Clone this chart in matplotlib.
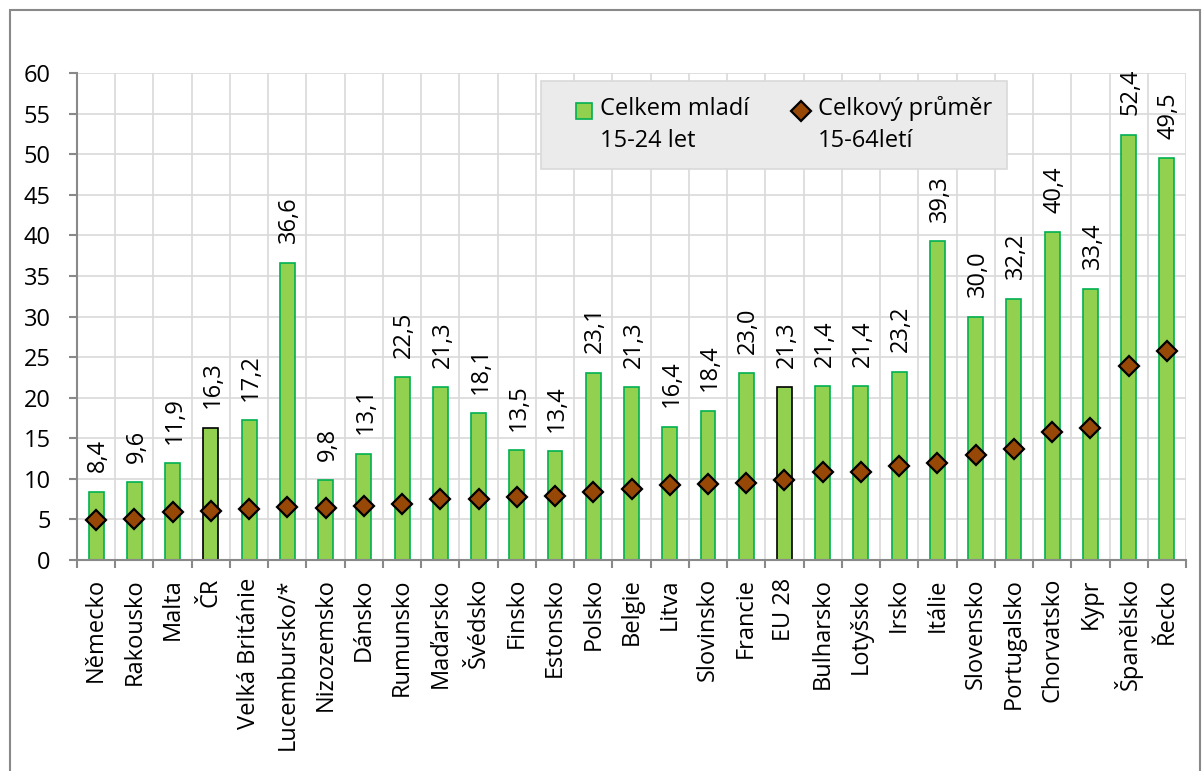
import matplotlib
matplotlib.use("Agg")
import matplotlib.pyplot as plt
import numpy as np
from matplotlib.patches import Rectangle
from matplotlib.lines import Line2D
from matplotlib.legend_handler import HandlerPatch, HandlerLine2D

plt.rcParams['font.family'] = ['Open Sans', 'DejaVu Sans']

categories = ["Německo", "Rakousko", "Malta", "ČR", "Velká Británie", "Lucembursko/*",
              "Nizozemsko", "Dánsko", "Rumunsko", "Maďarsko", "Švédsko", "Finsko",
              "Estonsko", "Polsko", "Belgie", "Litva", "Slovinsko", "Francie", "EU 28",
              "Bulharsko", "Lotyšsko", "Irsko", "Itálie", "Slovensko", "Portugalsko",
              "Chorvatsko", "Kypr", "Španělsko", "Řecko"]
youth = [8.4, 9.6, 11.9, 16.3, 17.2, 36.6, 9.8, 13.1, 22.5, 21.3, 18.1, 13.5, 13.4,
         23.1, 21.3, 16.4, 18.4, 23.0, 21.3, 21.4, 21.4, 23.2, 39.3, 30.0, 32.2,
         40.4, 33.4, 52.4, 49.5]
total = [4.9, 5.0, 5.9, 6.0, 6.3, 6.5, 6.4, 6.7, 6.9, 7.5, 7.5, 7.8, 7.9, 8.4, 8.8,
         9.3, 9.4, 9.5, 9.8, 10.8, 10.9, 11.6, 12.0, 12.9, 13.7, 15.8, 16.3, 23.9, 25.7]
highlight = ["ČR", "EU 28"]
label_youth = "Celkem mladí\n15-24 let"
label_total = "Celkový průměr\n15-64letí"
yticks = list(range(0, 61, 5))

FS = 17
SHIFT = 0.62  # legend handle shift (in font sizes) to align with first text line
XPAD = 0.85


class ShiftPatch(HandlerPatch):
    def adjust_drawing_area(self, legend, orig_handle, xdescent, ydescent, width, height, fontsize):
        return (xdescent - XPAD * fontsize, ydescent - SHIFT * fontsize,
                width - XPAD * fontsize, height)


class ShiftLine(HandlerLine2D):
    def adjust_drawing_area(self, legend, orig_handle, xdescent, ydescent, width, height, fontsize):
        return (xdescent - XPAD * fontsize, ydescent - 2 * SHIFT * fontsize,
                width - XPAD * fontsize, height)


fig = plt.figure(figsize=(12.02, 7.71), dpi=100)
ax = fig.add_axes([77/1202, 1-560/771, (1186-77)/1202, (560-73)/771])

n = len(categories)
x = np.arange(n)
edges = ['black' if c in highlight else '#00B050' for c in categories]
bars = ax.bar(x, youth, width=0.39, color='#92D050', edgecolor=edges, linewidth=1.2,
              zorder=2, label=label_youth)
line, = ax.plot(x, total, linestyle='none', marker='D', markersize=10.5,
                markerfacecolor='#974706', markeredgecolor='black', markeredgewidth=1.6,
                zorder=3, label=label_total)

for xi, v in zip(x, youth):
    ax.annotate(f"{v:.1f}".replace('.', ','), (xi, v), xytext=(1.5, 14),
                textcoords='offset points', rotation=90, ha='center', va='bottom',
                fontsize=FS, color='black')

ax.set_xlim(-0.5, n - 0.5)
ax.set_ylim(0, 60)
ax.set_yticks(yticks)
ax.set_yticklabels([str(t) for t in yticks], fontsize=FS)
ax.set_xticks(x)
ax.set_xticklabels(categories, rotation=90, fontsize=FS)
ax.tick_params(axis='x', length=0, pad=13)
ax.set_xticks(np.arange(-0.5, n, 1), minor=True)
ax.tick_params(axis='x', which='minor', length=6, color='#898989', width=1.5, direction='out')
ax.tick_params(axis='y', length=6, color='#898989', width=1.5, pad=13)
ax.grid(True, axis='y', color='#D9D9D9', linewidth=1.2, zorder=0)
ax.grid(True, axis='x', which='minor', color='#D9D9D9', linewidth=1.2, zorder=0)
ax.set_axisbelow(True)
for s in ['top', 'right']:
    ax.spines[s].set_visible(False)
for s in ['left', 'bottom']:
    ax.spines[s].set_color('#898989')
    ax.spines[s].set_linewidth(1.5)

bar_handle = bars.patches[0]
leg = ax.legend([bar_handle, line], [label_youth, label_total],
                loc='upper left', bbox_to_anchor=((541-77)/1109, (560-81)/487),
                ncol=2, fontsize=FS, frameon=True, fancybox=False,
                handlelength=0.68 + XPAD, handleheight=0.68, handletextpad=0.34,
                columnspacing=1.0, borderpad=0.65, borderaxespad=0,
                handler_map={Rectangle: ShiftPatch(), Line2D: ShiftLine()})
for t in leg.get_texts():
    t.set_linespacing(1.45)
leg.get_frame().set_facecolor('#EBEBEB')
leg.get_frame().set_edgecolor('#D9D9D9')
leg.get_frame().set_alpha(1)
leg.get_frame().set_linewidth(1.2)

fig.patches.append(Rectangle((10/1202, -0.01), (1200-10)/1202, 1 - 10/771 + 0.01,
                             transform=fig.transFigure, fill=False, edgecolor='#898989',
                             linewidth=1.5))

fig.savefig('out.png', dpi=100)
